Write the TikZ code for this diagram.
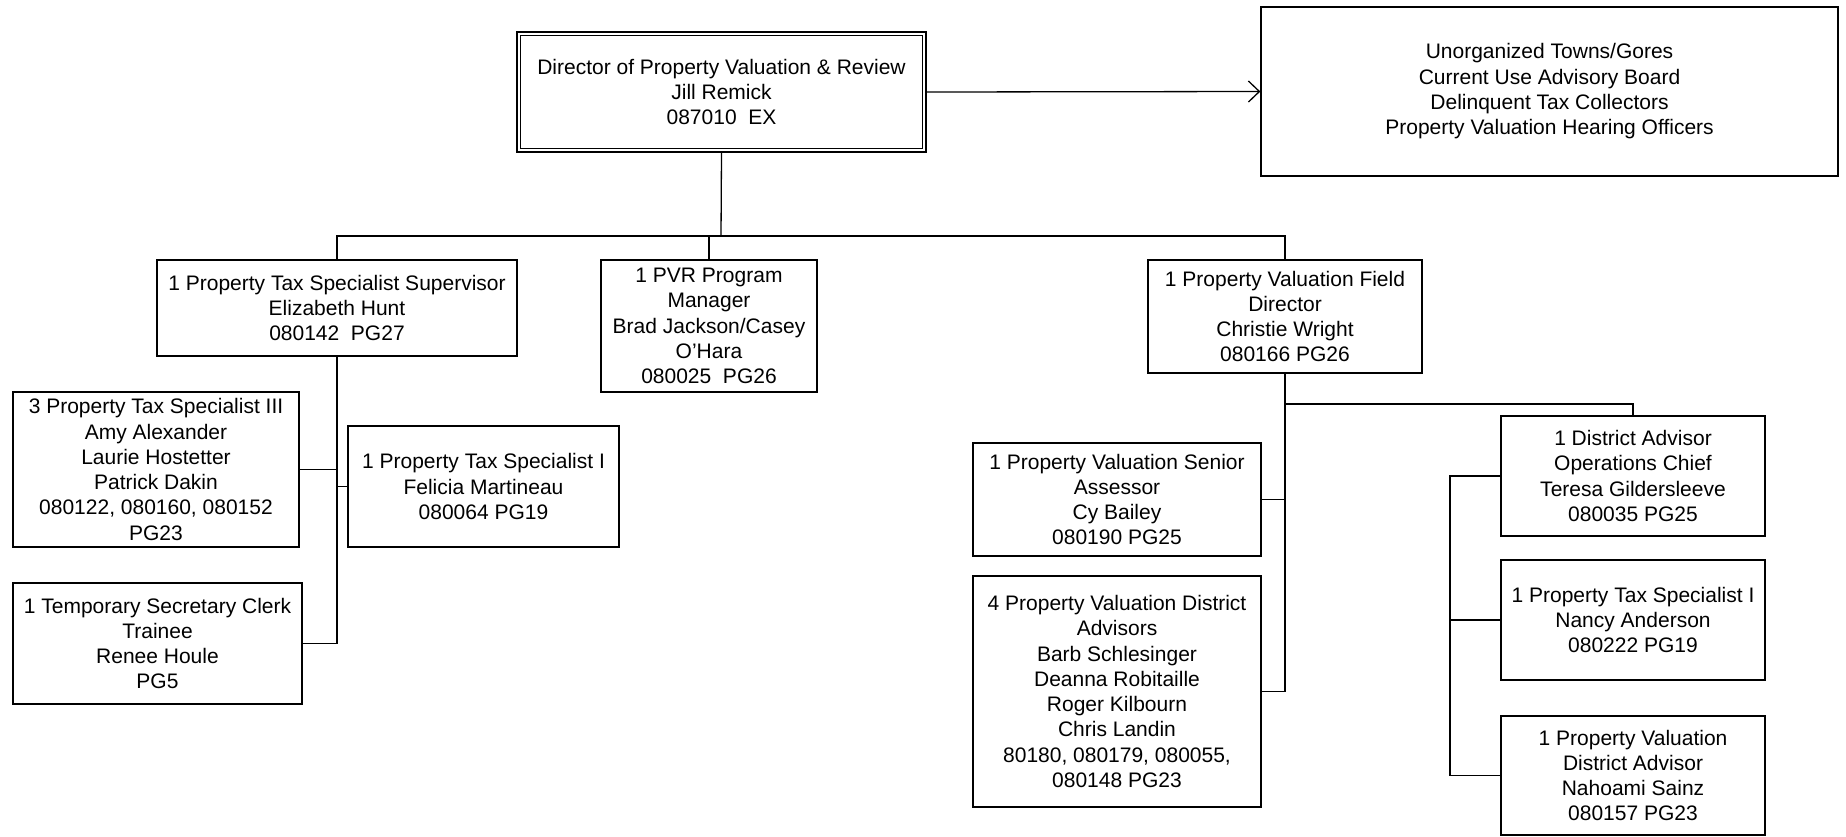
\documentclass[tikz,border=0pt]{standalone}
\usepackage{fontspec}
\setmainfont{Liberation Sans}
\usetikzlibrary{arrows.meta}
\tikzset{
  box/.style={draw, line width=0.65pt, inner sep=0pt, align=center,
    font=\fontsize{10.5}{12.65}\selectfont},
  conn/.style={line width=0.65pt},
}
\newcommand\bx[6]{\node[box, minimum width={(#4-#2)*0.5pt}, minimum height={(#5-#3)*0.5pt}] (#1) at ({(#2+#4)/2},{(#3+#5)/2}) {#6};}
\begin{document}
\begin{tikzpicture}[x=0.5pt,y=-0.5pt]
\useasboundingbox (0,0) rectangle (1846,836);
% boxes
\bx{dir}{517}{32}{926}{152}{Director of Property Valuation \& Review\\Jill Remick\\087010\ \ EX}
\draw[line width=0.45pt] ([shift={(2.2pt,-2.2pt)}]dir.north west) rectangle ([shift={(-2.2pt,2.2pt)}]dir.south east);
\bx{oth}{1261}{7}{1838}{176}{Unorganized Towns/Gores\\Current Use Advisory Board\\Delinquent Tax Collectors\\Property Valuation Hearing Officers}
\bx{sup}{157}{260}{517}{356}{1 Property Tax Specialist Supervisor\\Elizabeth Hunt\\080142\ \ PG27}
\bx{pvr}{601}{260}{817}{392}{1 PVR Program\\Manager\\Brad Jackson/Casey\\O’Hara\\080025\ \ PG26}
\bx{pfd}{1148}{260}{1422}{373}{1 Property Valuation Field\\Director\\Christie Wright\\080166 PG26}
\bx{pts3}{13}{392}{299}{547}{3 Property Tax Specialist III\\Amy Alexander\\Laurie Hostetter\\Patrick Dakin\\080122, 080160, 080152\\PG23}
\bx{pts1}{348}{426}{619}{547}{1 Property Tax Specialist I\\Felicia Martineau\\080064 PG19}
\bx{tmp}{13}{583}{302}{704}{1 Temporary Secretary Clerk\\Trainee\\Renee Houle\\PG5}
\bx{sen}{973}{443}{1261}{556}{1 Property Valuation Senior\\Assessor\\Cy Bailey\\080190 PG25}
\bx{pvd}{973}{576}{1261}{807}{4 Property Valuation District\\Advisors\\Barb Schlesinger\\Deanna Robitaille\\Roger Kilbourn\\Chris Landin\\80180, 080179, 080055,\\080148 PG23}
\bx{da}{1501}{416}{1765}{536}{1 District Advisor\\Operations Chief\\Teresa Gildersleeve\\080035 PG25}
\bx{nan}{1501}{560}{1765}{680}{1 Property Tax Specialist I\\Nancy Anderson\\080222 PG19}
\bx{nah}{1501}{716}{1765}{835}{1 Property Valuation\\District Advisor\\Nahoami Sainz\\080157 PG23}
% helper coordinates
\coordinate (bus) at (721,236);
\coordinate (br) at (1285,404);
\coordinate (dal) at (1450,476);
% connectors
\draw[conn, -{Straight Barb[length=5.5pt,width=10.5pt]}] (dir.east) -- (oth.west);
\draw[conn] (dir.south) -- (bus);
\draw[conn] (sup.north) |- (bus) -| (pfd.north);
\draw[conn] (pvr.north) -- (pvr.north |- bus);
\draw[conn] (sup.south) |- (tmp.east);
\draw[conn] (pts3.east) -- (pts3.east -| sup.south);
\draw[conn] (pts1.west) -- (pts1.west -| sup.south);
\draw[conn] (pfd.south) |- (pvd.east);
\draw[conn] (sen.east) -- (sen.east -| pfd.south);
\draw[conn] (br) -| (da.north);
\draw[conn] (da.west) -- (dal) |- (nah.west);
\draw[conn] (nan.west) -- (nan.west -| dal);
\end{tikzpicture}
\end{document}
